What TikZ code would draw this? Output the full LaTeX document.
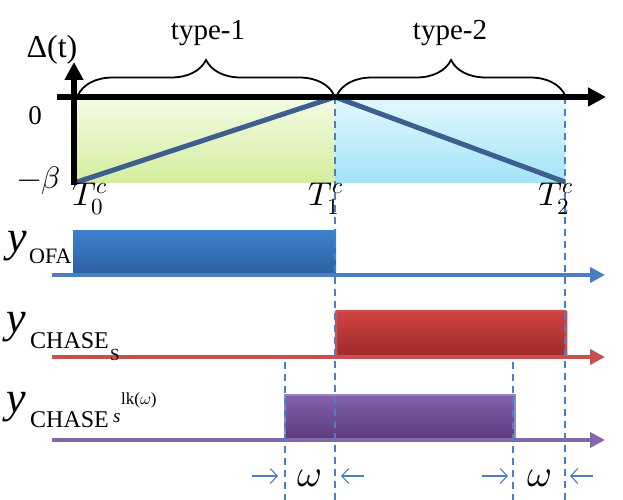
\documentclass[tikz,border=0pt]{standalone}
\usepackage{fontspec}
\usepackage{unicode-math}
\setmainfont{Liberation Serif}
\setmathfont{Latin Modern Math}
\usetikzlibrary{arrows.meta,decorations.pathreplacing}
\definecolor{greenTop}{HTML}{F4FBE6}
\definecolor{greenBot}{HTML}{D4EE9E}
\definecolor{cyanTop}{HTML}{E4F8FE}
\definecolor{cyanBot}{HTML}{A2E4F8}
\definecolor{zig}{HTML}{3C5F8E}
\definecolor{dashc}{HTML}{4A7FC8}
\definecolor{ofaTop}{HTML}{3E80CD}
\definecolor{ofaBot}{HTML}{2D61A2}
\definecolor{ofaLine}{HTML}{4A7EC2}
\definecolor{redTop}{HTML}{D24242}
\definecolor{redBot}{HTML}{9E2A2A}
\definecolor{redLine}{HTML}{C85050}
\definecolor{purTop}{HTML}{8262AC}
\definecolor{purBot}{HTML}{5A3C7E}
\definecolor{purLine}{HTML}{8466AA}
\tikzset{
  bigaxis/.style={line width=6pt, black, -{Triangle[length=18pt,width=18pt]}},
  timeline/.style={line width=4pt, -{Triangle[length=15pt,width=15pt]}},
  guide/.style={dashc, line width=1.6pt, dash pattern=on 7pt off 5pt},
  bracestyle/.style={line width=1.8pt, decorate, decoration={brace, amplitude=35pt}},
  smallarr/.style={dashc, line width=1.1pt, -{Straight Barb[length=7pt,width=15pt]}},
  lbl/.style={inner sep=0pt},
}
\begin{document}
\begin{tikzpicture}[x=1pt,y=-1pt]
\useasboundingbox (0,0) rectangle (623,500);
% key coordinates
\coordinate (T0) at (75,182);
\coordinate (T1) at (335,97);
\coordinate (T2) at (565,182);
\coordinate (T0b) at (75,97);
\coordinate (T1b) at (335,182);
\coordinate (T2b) at (565,97);
% shaded regions
\fill[top color=greenTop, bottom color=greenBot] (T0b) rectangle (T1b);
\fill[top color=cyanTop, bottom color=cyanBot] (T1) rectangle (T2);
% bars
\fill[top color=ofaTop, bottom color=ofaBot] (73,230) rectangle (336,273);
\draw[line width=2.5pt, redLine, top color=redTop, bottom color=redBot, rounded corners=1pt] (336,311) rectangle (566,356);
\draw[line width=1.5pt, purLine!80, top color=purTop, bottom color=purBot] (285,395) rectangle (515,439);
% timelines
\coordinate (ofaS) at (52,275);
\coordinate (ofaE) at (605,275);
\coordinate (redS) at (52,357);
\coordinate (redE) at (605,357);
\coordinate (purS) at (52,440);
\coordinate (purE) at (605,440);
\draw[timeline, ofaLine] (ofaS) -- (ofaE);
\draw[timeline, redLine] (redS) -- (redE);
\draw[timeline, purLine] (purS) -- (purE);
% dashed guides
\coordinate (g1e) at (335,500);
\coordinate (g2e) at (565,500);
\coordinate (g3s) at (285,362);
\coordinate (g3e) at (285,500);
\coordinate (g4s) at (513,362);
\coordinate (g4e) at (513,500);
\draw[guide] (T1) -- (g1e);
\draw[guide] (T2b) -- (g2e);
\draw[guide] (g3s) -- (g3e);
\draw[guide] (g4s) -- (g4e);
% zigzag
\draw[zig, line width=5pt, line join=miter] (77,182) -- (T1) -- (T2);
% axes
\coordinate (hS) at (57,97);
\coordinate (hE) at (606,97);
\coordinate (vS) at (74,185);
\coordinate (vE) at (74,62);
\draw[bigaxis] (hS) -- (hE);
\draw[bigaxis] (vS) -- (vE);
% braces
\draw[bracestyle] (78,95) -- (334,95);
\draw[bracestyle] (337,95) -- (565,95);
\node[lbl, font=\fontsize{29}{32}\selectfont] (type1) at (208,33) {type-1};
\node[lbl, font=\fontsize{29}{32}\selectfont] (type2) at (450,33) {type-2};
% axis labels
\node[lbl, font=\fontsize{32}{36}\selectfont] (delta) at (52,50) {Δ(t)};
\node[lbl, font=\fontsize{27}{30}\selectfont] (zero) at (35,116) {0};
\node[lbl, font=\fontsize{31}{34}\selectfont] (mbeta) at (39,181) {$-\beta$};
\node[lbl, font=\fontsize{33}{36}\selectfont] (lT0) at (90,199) {$T_0^c$};
\node[lbl, font=\fontsize{33}{36}\selectfont] (lT1) at (326,199) {$T_1^c$};
\node[lbl, font=\fontsize{33}{36}\selectfont] (lT2) at (556,199) {$T_2^c$};
% row labels
\node[lbl, anchor=base west, font=\fontsize{44}{48}\selectfont\itshape] (y1) at (7,251) {y};
\node[lbl, anchor=base west, font=\fontsize{22}{26}\selectfont] (ofa) at (29,263) {OFA};
\node[lbl, anchor=base west, font=\fontsize{44}{48}\selectfont\itshape] (y2) at (6,332) {y};
\node[lbl, anchor=base west, font=\fontsize{24}{28}\selectfont] (chase1) at (30,348) {CHASE};
\node[lbl, anchor=base west, font=\fontsize{17}{20}\selectfont] (sub1) at (110,360) {S};
\node[lbl, anchor=base west, font=\fontsize{44}{48}\selectfont\itshape] (y3) at (6,412) {y};
\node[lbl, anchor=base west, font=\fontsize{24}{28}\selectfont] (chase2) at (30,427) {CHASE};
\node[lbl, anchor=base west, font=\fontsize{19}{22}\selectfont\itshape] (sub2) at (113,422) {s};
\node[lbl, anchor=base west, font=\fontsize{17}{20}\selectfont] (sup2) at (121,404) {lk($\omega$)};
% omega markers
\node[lbl, font=\fontsize{38}{40}\selectfont] (om1) at (310,478) {$\omega$};
\node[lbl, font=\fontsize{38}{40}\selectfont] (om2) at (539,478) {$\omega$};
\coordinate (a1s) at (252,476); \coordinate (a1e) at (278,476);
\coordinate (a2s) at (364,476); \coordinate (a2e) at (341,476);
\coordinate (a3s) at (482,476); \coordinate (a3e) at (508,476);
\coordinate (a4s) at (593,476); \coordinate (a4e) at (570,476);
\draw[smallarr] (a1s) -- (a1e);
\draw[smallarr] (a2s) -- (a2e);
\draw[smallarr] (a3s) -- (a3e);
\draw[smallarr] (a4s) -- (a4e);
\end{tikzpicture}
\end{document}
